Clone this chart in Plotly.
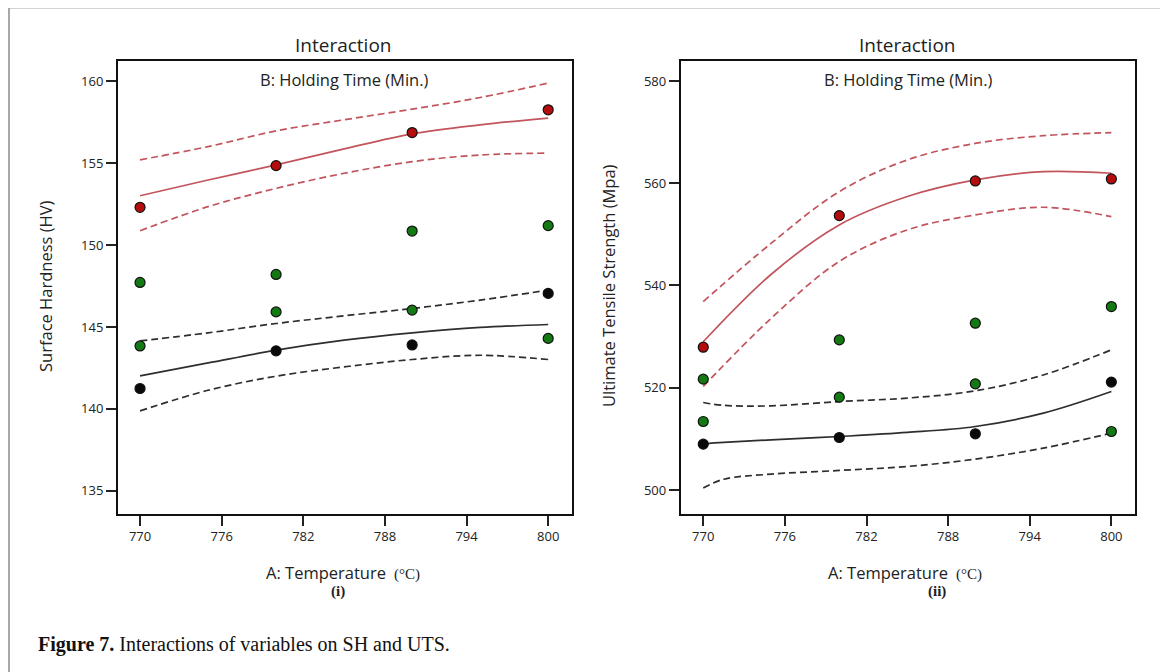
import plotly.graph_objects as go

# ---------------- data ----------------
temps = [770, 780, 790, 800]

# (i) Surface hardness
sh_red_pts = [152.31, 154.86, 156.88, 158.27]
sh_green_hi = [147.72, 148.21, 150.86, 151.19]
sh_green_lo = [143.84, 145.92, 146.03, 144.30]
sh_black_pts = [141.24, 143.54, 143.90, 147.05]

sh_curve_t = [770, 775, 780, 785, 790, 795, 800]
sh_red_fit = [153.02, 153.98, 154.90, 155.88, 156.80, 157.35, 157.76]
sh_red_up = [155.21, 156.02, 156.98, 157.66, 158.31, 159.02, 159.90]
sh_red_lo = [150.88, 152.35, 153.47, 154.39, 155.10, 155.51, 155.62]
sh_blk_fit = [142.01, 142.80, 143.58, 144.19, 144.64, 144.97, 145.15]
sh_blk_up = [144.15, 144.64, 145.21, 145.68, 146.13, 146.64, 147.25]
sh_blk_lo = [139.87, 141.13, 141.99, 142.56, 143.01, 143.27, 143.01]

# (ii) Ultimate tensile strength
uts_red_pts = [527.93, 553.67, 560.45, 560.84]
uts_green_hi = [521.68, 529.36, 532.63, 535.88]
uts_green_lo = [513.40, 518.16, 520.76, 511.44]
uts_black_pts = [508.97, 510.27, 510.99, 521.10]

uts_red_t = [770, 775, 780, 785, 790, 795, 800]
uts_red_fit = [529.0, 542.2, 551.85, 557.4, 560.65, 562.27, 561.95]
uts_red_up = [536.85, 548.27, 558.36, 564.56, 567.8, 569.3, 569.9]
uts_red_lo = [520.24, 533.6, 544.7, 550.87, 553.8, 555.3, 553.47]

uts_blk_t = [770, 771.5, 775, 780, 785, 790, 795, 800]
uts_blk_fit = [509.03, 509.3, 509.81, 510.46, 511.25, 512.42, 515.03, 519.26]
uts_blk_up = [517.11, 516.55, 516.46, 517.3, 517.97, 519.4, 522.5, 527.41]
uts_blk_lo = [500.37, 502.1, 503.1, 503.82, 504.6, 506.04, 508.19, 511.12]

x_ticks = [770, 776, 782, 788, 794, 800]
sh_ticks = [135, 140, 145, 150, 155, 160]
uts_ticks = [500, 520, 540, 560, 580]

# ---------------- styling ----------------
# the page body has an 8px margin, so the figure is 8px smaller and offset
OFF = 8
W, H = 1168 - OFF, 672 - OFF
def px(x):
    return (x - OFF) / W
def py(y):
    return 1 - (y - OFF) / H

RED_LINE = "#c2545c"
BLK_LINE = "#2e2e2e"
RED_PT = "#b50d0d"
GRN_PT = "#137a13"
BLK_PT = "#0a0a0a"
SANS = "Open Sans"
SERIF = "Liberation Serif"
DASH = "7px,4px"

fig = go.Figure()

def add_panel(xa, ya, rt, fit_r, up_r, lo_r, bt, fit_b, up_b, lo_b, red, ghi, glo, blk):
    for ct, ys, col, dash in [
        (rt, up_r, RED_LINE, DASH), (rt, lo_r, RED_LINE, DASH), (rt, fit_r, RED_LINE, "solid"),
        (bt, up_b, BLK_LINE, DASH), (bt, lo_b, BLK_LINE, DASH), (bt, fit_b, BLK_LINE, "solid"),
    ]:
        fig.add_trace(go.Scatter(
            x=ct, y=ys, mode="lines", xaxis=xa, yaxis=ya,
            line=dict(color=col, width=1.7, dash=dash, shape="spline", smoothing=1.0),
            hoverinfo="skip"))
    for ys, col in [(ghi, GRN_PT), (glo, GRN_PT), (blk, BLK_PT), (red, RED_PT)]:
        fig.add_trace(go.Scatter(
            x=temps, y=ys, mode="markers", xaxis=xa, yaxis=ya,
            marker=dict(size=10, color=col, line=dict(color="#111111", width=1.2))))

add_panel("x", "y", sh_curve_t, sh_red_fit, sh_red_up, sh_red_lo,
          sh_curve_t, sh_blk_fit, sh_blk_up, sh_blk_lo,
          sh_red_pts, sh_green_hi, sh_green_lo, sh_black_pts)
add_panel("x2", "y2", uts_red_t, uts_red_fit, uts_red_up, uts_red_lo,
          uts_blk_t, uts_blk_fit, uts_blk_up, uts_blk_lo,
          uts_red_pts, uts_green_hi, uts_green_lo, uts_black_pts)

ax_common = dict(
    showline=True, linecolor="#111111", linewidth=2, mirror=True,
    ticks="outside", ticklen=10, tickwidth=1.5, tickcolor="#222222",
    showgrid=False, zeroline=False,
    tickfont=dict(family=SANS, size=13, color="#222222"),
)

ydom = [py(513.5), py(60.7)]
fig.update_layout(
    width=W, height=H,
    margin=dict(l=0, r=0, t=0, b=0),
    paper_bgcolor="white", plot_bgcolor="white",
    showlegend=False,
    xaxis=dict(domain=[px(118), px(572)], range=[768.38, 801.75],
               tickvals=x_ticks, anchor="y", **ax_common),
    yaxis=dict(domain=ydom, range=[133.6, 161.27], tickvals=sh_ticks,
               anchor="x", **ax_common),
    xaxis2=dict(domain=[px(680.8), px(1134.5)], range=[768.35, 801.7],
                tickvals=x_ticks, anchor="y2", **ax_common),
    yaxis2=dict(domain=ydom, range=[495.4, 583.97], tickvals=uts_ticks,
                anchor="x2", **ax_common),
)

def ann(text, x, y, size, family=SANS, color="#222222", angle=0, xanchor="center"):
    fig.add_annotation(text=text, x=px(x), y=py(y), xref="paper", yref="paper",
                       showarrow=False, xanchor=xanchor, yanchor="middle",
                       textangle=angle, font=dict(family=family, size=size, color=color))

# panel titles
ann("Interaction", 342.6, 44.5, 19)
ann("Interaction", 907, 44.5, 19)
ann("B: Holding Time (Min.)", 344.5, 79, 16.5)
ann("B: Holding Time (Min.)", 908, 79, 16.5)

# axis titles
ann("Surface Hardness (HV)", 45, 286, 16.5, angle=-90)
ann("Ultimate Tensile Strength (Mpa)", 608, 286, 16.5, angle=-90)
xt = ("A: Temperature <span style='font-family:Liberation Serif;font-size:15px'>"
      "&nbsp;(°C)</span>")
ann(xt, 342.6, 572.7, 16.5)
ann(xt, 905, 572.7, 16.5)
ann("<b>(i)</b>", 338, 591.7, 15, family=SERIF)
ann("<b>(ii)</b>", 937, 591.7, 15, family=SERIF)

# caption
ann("<b>Figure 7.</b> Interactions of variables on SH and UTS.", 35.5, 644.3, 20,
    family=SERIF, color="#111111", xanchor="left")

# outer frame
for x0, y0, x1, y1 in [(9, 7.5, 9, 700), (9, 7.5, 1165.5, 7.5), (1165.5, 7.5, 1165.5, 700)]:
    fig.add_shape(type="line", xref="paper", yref="paper",
                  x0=px(x0), y0=py(y0), x1=px(x1), y1=py(y1),
                  line=dict(color="#a8a8a8", width=2))

fig.write_html("out.html")
